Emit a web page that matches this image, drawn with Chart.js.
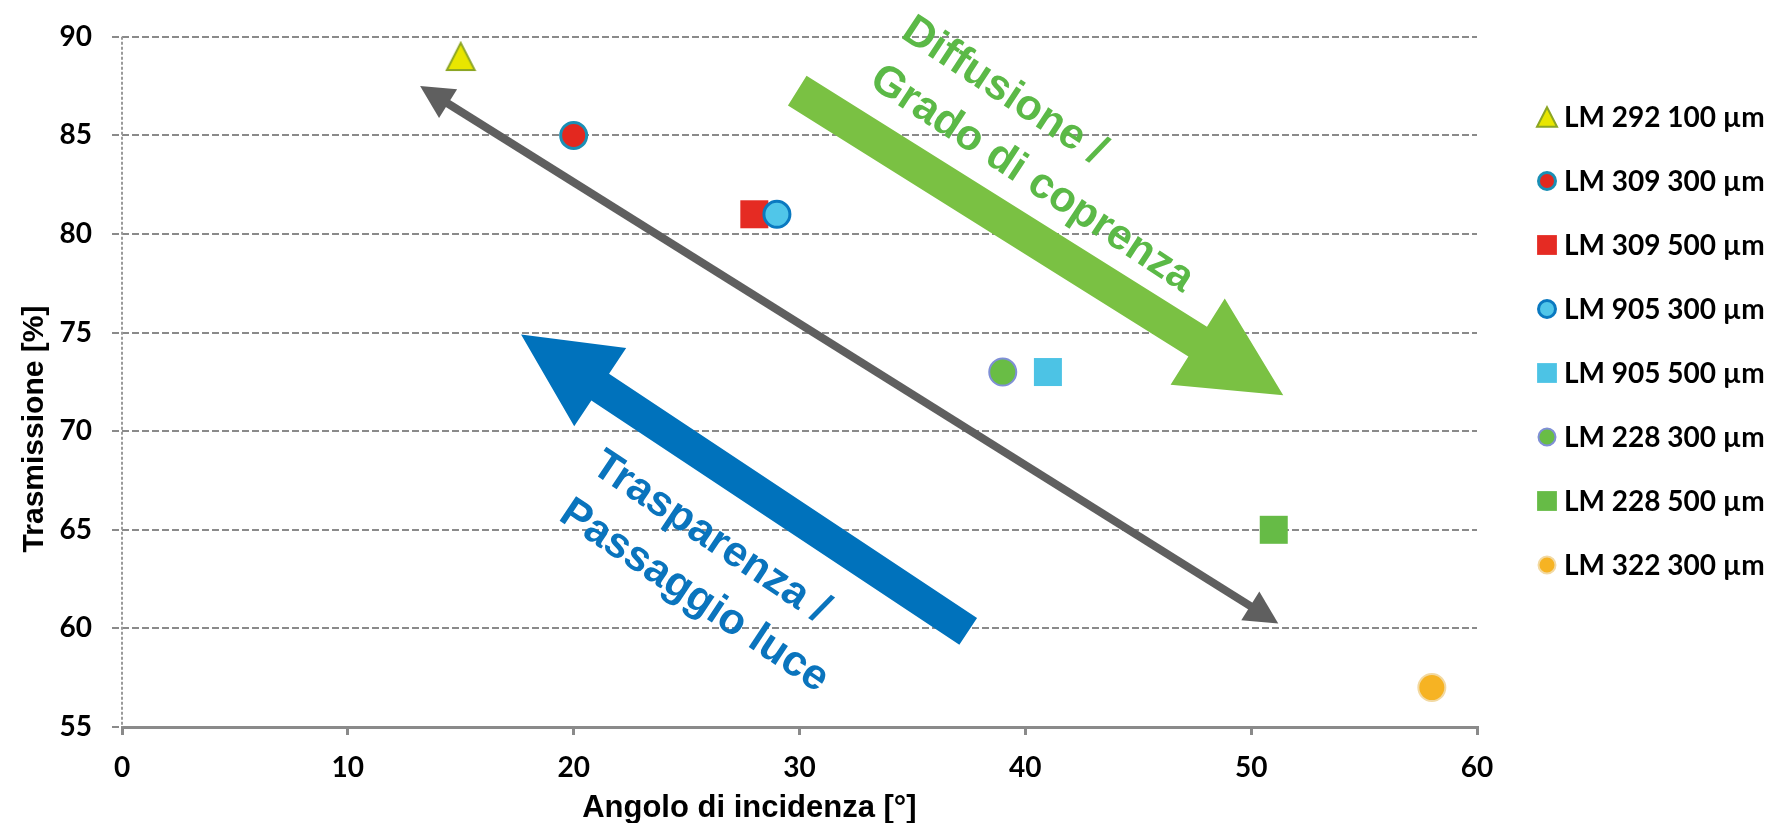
<!DOCTYPE html>
<html>
<head>
<meta charset="utf-8">
<script src="https://cdn.jsdelivr.net/npm/chart.js@4.4.1/dist/chart.umd.min.js"></script>
<style>
  html, body { margin: 0; padding: 0; background: #fff; }
  #wrap { width: 1773px; height: 823px; }
</style>
</head>
<body>
<div id="wrap"><canvas id="chart"></canvas></div>
<script>
// values
const seriesNames = ['LM 292 100 µm', 'LM 309 300 µm', 'LM 309 500 µm', 'LM 905 300 µm',
                     'LM 905 500 µm', 'LM 228 300 µm', 'LM 228 500 µm', 'LM 322 300 µm'];
const angleValues = [15, 20, 28, 29, 41, 39, 51, 58];        // Angolo di incidenza [°]
const transValues = [89, 85, 81, 81, 73, 73, 65, 57];        // Trasmissione [%]
const xTickValues = [0, 10, 20, 30, 40, 50, 60];
const yTickValues = [55, 60, 65, 70, 75, 80, 85, 90];

// marker look per series
const markerStyles = [
  { style: 'triangle', fill: '#e8e600', border: '#8ba524', bw: 2, r: 16 },
  { style: 'circle',   fill: '#e3281f', border: '#1a8fb5', bw: 3, r: 13 },
  { style: 'rect',     fill: '#e52b23', border: '#e52b23', bw: 0, r: 19.8 },
  { style: 'circle',   fill: '#50c6e9', border: '#0a79c0', bw: 3, r: 13 },
  { style: 'rect',     fill: '#4cc3e5', border: '#4cc3e5', bw: 0, r: 19.8 },
  { style: 'circle',   fill: '#69bd45', border: '#7f8fd6', bw: 2, r: 13.5 },
  { style: 'rect',     fill: '#66bb46', border: '#66bb46', bw: 0, r: 19.8 },
  { style: 'circle',   fill: '#f6b323', border: '#f2d9a2', bw: 2, r: 13.5 }
];

// annotation arrows and texts, in axis units
const arrowNotes = [
  { kind: 'double', from: [13.2, 87.5], to: [51.2, 60.25], color: '#5f5f5f' },
  { kind: 'block', from: [37.47, 59.85], to: [17.67, 74.9], color: '#0072bc', shaft: 32, headLen: 95, headW: 94 },
  { kind: 'block', from: [29.9, 87.27], to: [51.42, 71.82], color: '#7ac143', shaft: 35, headLen: 101, headW: 102 }
];
const textNotes = [
  { lines: ['Diffusione /', 'Grado di coprenza'], at: [34.72, 90.51], angle: 33.4, color: '#5bb947' },
  { lines: ['Trasparenza /', 'Passaggio luce'], at: [20.99, 68.48], angle: 33.7, color: '#0a74bd' }
];

const tickFont = { family: 'Lato', weight: 'bold', size: 28 };
const gridGrey = '#8a8a8a';

function marker(ctx, m, x, y, r) {
  ctx.save();
  ctx.fillStyle = m.fill;
  ctx.strokeStyle = m.border;
  ctx.lineWidth = m.bw;
  ctx.beginPath();
  if (m.style === 'circle') {
    ctx.arc(x, y, r, 0, Math.PI * 2);
  } else if (m.style === 'rect') {
    const s = r * Math.SQRT1_2;
    ctx.rect(x - s, y - s, 2 * s, 2 * s);
  } else {
    const hw = r * 0.87, hh = r * 0.85;
    ctx.moveTo(x, y - hh);
    ctx.lineTo(x + hw, y + hh);
    ctx.lineTo(x - hw, y + hh);
    ctx.closePath();
  }
  ctx.fill();
  if (m.bw > 0) ctx.stroke();
  ctx.restore();
}

// triangle marker centred on its box, like the original
function triangleImage(m) {
  const c = document.createElement('canvas');
  c.width = 32; c.height = 31;
  marker(c.getContext('2d'), m, 16, 15.5, 16);
  return c;
}

function blockArrow(ctx, t, p, a) {
  const dx = p[0] - t[0], dy = p[1] - t[1];
  const len = Math.hypot(dx, dy);
  const ux = dx / len, uy = dy / len, nx = -uy, ny = ux;
  const bx = p[0] - ux * a.headLen, by = p[1] - uy * a.headLen;
  const w = a.shaft / 2, hw = a.headW / 2;
  ctx.beginPath();
  ctx.moveTo(t[0] + nx * w, t[1] + ny * w);
  ctx.lineTo(bx + nx * w, by + ny * w);
  ctx.lineTo(bx + nx * hw, by + ny * hw);
  ctx.lineTo(p[0], p[1]);
  ctx.lineTo(bx - nx * hw, by - ny * hw);
  ctx.lineTo(bx - nx * w, by - ny * w);
  ctx.lineTo(t[0] - nx * w, t[1] - ny * w);
  ctx.closePath();
  ctx.fillStyle = a.color;
  ctx.fill();
}

function doubleArrow(ctx, s, e, color) {
  const dx = e[0] - s[0], dy = e[1] - s[1];
  const len = Math.hypot(dx, dy);
  const ux = dx / len, uy = dy / len, nx = -uy, ny = ux;
  const hl = 33, hw = 17;
  ctx.strokeStyle = color;
  ctx.fillStyle = color;
  ctx.lineWidth = 8;
  ctx.beginPath();
  ctx.moveTo(s[0] + ux * (hl - 4), s[1] + uy * (hl - 4));
  ctx.lineTo(e[0] - ux * (hl - 4), e[1] - uy * (hl - 4));
  ctx.stroke();
  [[s, 1], [e, -1]].forEach(([pt, d]) => {
    const bx = pt[0] + ux * hl * d, by = pt[1] + uy * hl * d;
    ctx.beginPath();
    ctx.moveTo(pt[0], pt[1]);
    ctx.lineTo(bx + nx * hw, by + ny * hw);
    ctx.lineTo(bx - nx * hw, by - ny * hw);
    ctx.closePath();
    ctx.fill();
  });
}

const overlay = {
  id: 'overlay',
  beforeDatasetsDraw(chart) {
    const { ctx, chartArea } = chart;
    // dotted value axis line
    ctx.save();
    ctx.strokeStyle = '#9a9a9a';
    ctx.lineWidth = 2;
    ctx.setLineDash([3, 2]);
    ctx.beginPath();
    ctx.moveTo(chartArea.left, chartArea.top);
    ctx.lineTo(chartArea.left, chartArea.bottom);
    ctx.stroke();
    ctx.restore();
  },
  afterDatasetsDraw(chart) {
    const { ctx } = chart;
    const xs = chart.scales.x, ys = chart.scales.y;
    const px = v => [xs.getPixelForValue(v[0]), ys.getPixelForValue(v[1])];
    ctx.save();
    arrowNotes.forEach(a => {
      if (a.kind === 'double') doubleArrow(ctx, px(a.from), px(a.to), a.color);
      else blockArrow(ctx, px(a.from), px(a.to), a);
    });
    textNotes.forEach(t => {
      const p = px(t.at);
      ctx.save();
      ctx.translate(p[0], p[1]);
      ctx.rotate(t.angle * Math.PI / 180);
      ctx.fillStyle = t.color;
      ctx.font = 'bold 43px "Liberation Sans", Arial, sans-serif';
      ctx.textAlign = 'left';
      ctx.textBaseline = 'middle';
      t.lines.forEach((line, i) => ctx.fillText(line, 0, i * 58));
      ctx.restore();
    });
    ctx.restore();
  },
  afterDraw(chart) {
    const { ctx, chartArea } = chart;
    ctx.save();
    // legend
    ctx.font = 'bold 28px Lato, sans-serif';
    ctx.textAlign = 'left';
    ctx.textBaseline = 'alphabetic';
    seriesNames.forEach((name, i) => {
      const cy = 117 + i * 64;
      const m = markerStyles[i];
      const r = m.style === 'rect' ? 14 : (m.style === 'triangle' ? 11.5 : 8.5);
      marker(ctx, m, chartArea.right + 70, cy, r);
      ctx.fillStyle = '#000';
      ctx.fillText(name, chartArea.right + 87, cy + 10);
    });
    // axis titles
    ctx.fillStyle = '#000';
    ctx.font = 'bold 31px "Liberation Sans", Arial, sans-serif';
    ctx.textAlign = 'center';
    ctx.fillText('Angolo di incidenza [°]', chartArea.left + chartArea.width * 0.463, 817);
    ctx.save();
    ctx.translate(43, 429);
    ctx.rotate(-Math.PI / 2);
    ctx.font = 'bold 30px "Liberation Sans", Arial, sans-serif';
    ctx.fillText('Trasmissione [%]', 0, 0);
    ctx.restore();
    ctx.restore();
  }
};

const datasets = seriesNames.map((name, i) => {
  const m = markerStyles[i];
  return {
    label: name,
    data: [{ x: angleValues[i], y: transValues[i] }],
    pointStyle: m.style === 'triangle' ? triangleImage(m) : m.style,
    pointRadius: m.r,
    pointHoverRadius: m.r,
    pointBackgroundColor: m.fill,
    pointBorderColor: m.border,
    pointBorderWidth: m.bw,
    showLine: false,
    order: seriesNames.length - i,
    clip: false
  };
});

new Chart(document.getElementById('chart').getContext('2d'), {
  type: 'scatter',
  data: { datasets: datasets },
  plugins: [overlay],
  options: {
    responsive: true,
    maintainAspectRatio: false,
    animation: false,
    layout: { padding: { top: 34, right: 296, left: 0, bottom: 0 } },
    plugins: {
      legend: { display: false },
      tooltip: { enabled: false }
    },
    scales: {
      x: {
        type: 'linear',
        min: xTickValues[0],
        max: xTickValues[xTickValues.length - 1],
        afterBuildTicks: s => { s.ticks = xTickValues.map(v => ({ value: v })); },
        afterFit: s => { s.height = 96; },
        grid: { drawOnChartArea: false, color: gridGrey, lineWidth: 3, tickLength: 8 },
        border: { color: gridGrey, width: 3 },
        ticks: { font: tickFont, color: '#000', padding: 16, maxRotation: 0 }
      },
      y: {
        type: 'linear',
        min: yTickValues[0],
        max: yTickValues[yTickValues.length - 1],
        afterBuildTicks: s => { s.ticks = yTickValues.map(v => ({ value: v })); },
        afterFit: s => { s.width = 122; },
        grid: { color: gridGrey, lineWidth: 2, tickLength: 10, tickBorderDash: [7, 3] },
        border: { display: false, dash: [7, 3] },
        ticks: { font: tickFont, color: '#000', padding: 20 }
      }
    }
  }
});
</script>
</body>
</html>
